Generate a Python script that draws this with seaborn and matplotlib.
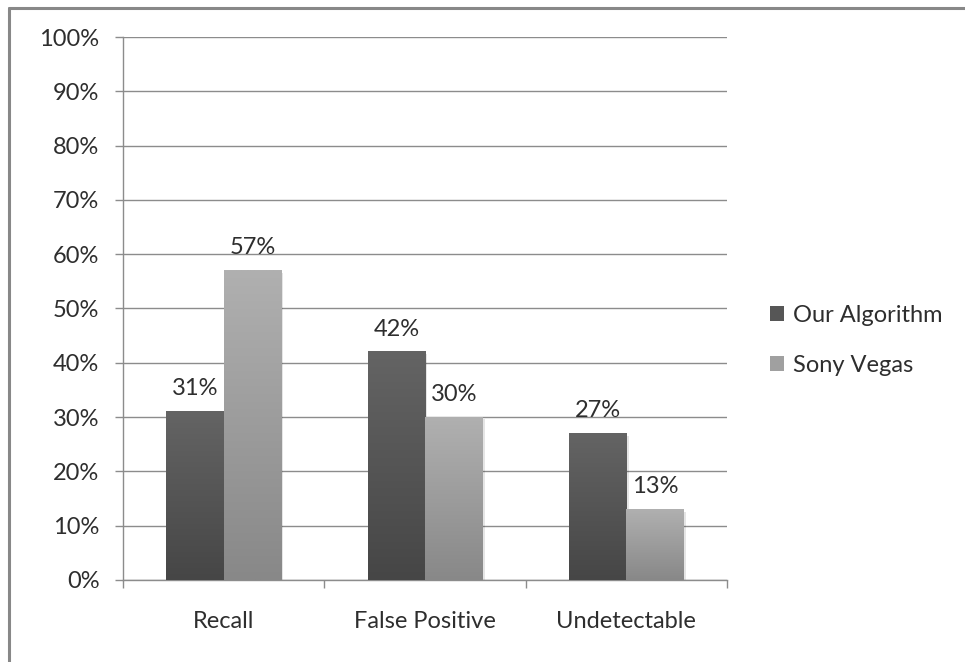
import numpy as np
import pandas as pd
import matplotlib
matplotlib.use("Agg")
import matplotlib.pyplot as plt
from matplotlib.colors import LinearSegmentedColormap
from matplotlib.lines import Line2D
from matplotlib.patches import Patch
import seaborn as sns

categories = ["Recall", "False Positive", "Undetectable"]
series = ["Our Algorithm", "Sony Vegas"]
our_algorithm = [31, 42, 27]
sony_vegas = [57, 30, 13]
y_ticks = [0, 10, 20, 30, 40, 50, 60, 70, 80, 90, 100]

df = pd.DataFrame({
    "category": categories * 2,
    "series": [series[0]] * 3 + [series[1]] * 3,
    "value": our_algorithm + sony_vegas,
})

sns.set_theme(style="white")
plt.rcParams["font.family"] = ["Lato", "DejaVu Sans"]
FS = 17
TXT = "#2e2e2e"

fig = plt.figure(figsize=(9.65, 6.62), dpi=100)
ax = fig.add_axes([0.1275, 0.1239, 0.6259, 0.8202])

base = {series[0]: "#565656", series[1]: "#a0a0a0"}
sns.barplot(data=df, x="category", y="value", hue="series", order=categories,
            hue_order=series, palette=base, width=0.57, ax=ax, legend=False,
            zorder=3)

# vertical gradients, darker toward the base of each bar
grads = {
    series[0]: LinearSegmentedColormap.from_list("g0", ["#464646", "#646464"]),
    series[1]: LinearSegmentedColormap.from_list("g1", ["#888888", "#b0b0b0"]),
}
grad = np.linspace(0, 1, 256).reshape(-1, 1)
bars = ax.patches
for i, p in enumerate(bars):
    s = series[i // len(categories)]
    x, w, h = p.get_x(), p.get_width(), p.get_height()
    # soft drop shadow
    ax.add_patch(plt.Rectangle((x + 0.012, 0), w, h - 0.4, color="#000000",
                               alpha=0.10, zorder=2.5, lw=0))
    ax.imshow(grad, extent=[x, x + w, 0, h], origin="lower", aspect="auto",
              cmap=grads[s], zorder=3.5)
    p.set_alpha(0)
    ax.text(x + w / 2, h + 4.2, f"{h:g}%", ha="center", va="center",
            fontsize=FS, color=TXT, zorder=5)

ax.set_xlim(-0.5, 2.5)
ax.set_ylim(0, 100)
ax.set_yticks(y_ticks)
ax.set_yticklabels([f"{t}%" for t in y_ticks])
ax.set_xticks([0, 1, 2])
ax.set_xticklabels(categories)
ax.set_xlabel("")
ax.set_ylabel("")

ax.yaxis.grid(True, color="#8c8c8c", lw=1.0, zorder=0)
ax.set_axisbelow(True)
for side in ("top", "right"):
    ax.spines[side].set_visible(False)
for side in ("left", "bottom"):
    ax.spines[side].set_color("#8c8c8c")
    ax.spines[side].set_linewidth(1.0)

ax.tick_params(axis="y", which="major", length=6, width=1.0, color="#8c8c8c",
               direction="out", left=True, pad=11, labelsize=FS,
               labelcolor=TXT)
ax.tick_params(axis="x", which="major", length=0, pad=22, labelsize=FS,
               labelcolor=TXT)
# category boundary ticks on the x axis
ax.set_xticks([-0.5, 0.5, 1.5, 2.5], minor=True)
ax.tick_params(axis="x", which="minor", length=6, width=1.0, color="#8c8c8c",
               direction="out", bottom=True)

handles = [Patch(facecolor=base[s], edgecolor="none") for s in series]
leg = fig.legend(handles, series, loc="center left",
                 bbox_to_anchor=(0.798, 0.486), frameon=False, fontsize=FS,
                 handlelength=0.6, handleheight=0.6, handletextpad=0.35,
                 labelspacing=1.25, borderpad=0, borderaxespad=0)
for t in leg.get_texts():
    t.set_color(TXT)

# chart frame (top and left edges)
fig.add_artist(Line2D([0.0098, 0.0098], [0.0, 0.988], transform=fig.transFigure,
                      color="#888888", lw=2.2))
fig.add_artist(Line2D([0.0098, 1.0], [0.988, 0.988], transform=fig.transFigure,
                      color="#888888", lw=2.2))

fig.savefig("out.png", dpi=100, facecolor="white")
